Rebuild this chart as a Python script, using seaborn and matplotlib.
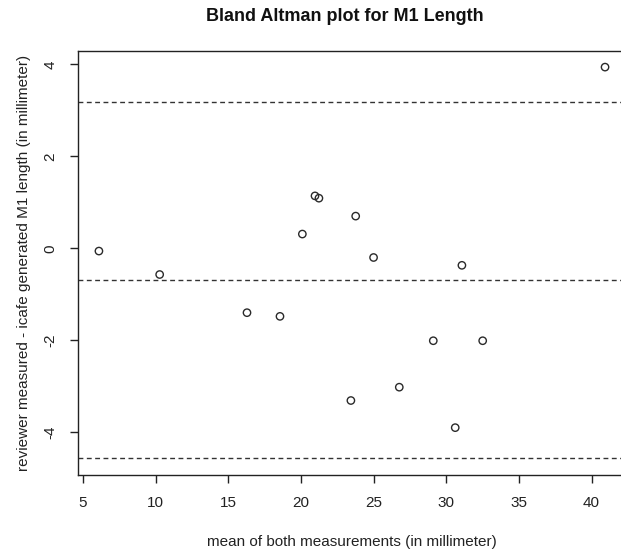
import matplotlib
matplotlib.use("Agg")
import matplotlib.pyplot as plt
import seaborn as sns
import pandas as pd

# mean of both measurements (mm) and difference reviewer - icafe (mm)
mean_mm = [6.1, 10.28, 16.29, 18.56, 20.1, 20.97, 21.24, 23.77,
           25.0, 31.08, 29.11, 32.51, 26.77, 23.44, 30.62, 40.93]
diff_mm = [-0.06, -0.57, -1.40, -1.48, 0.31, 1.14, 1.09, 0.70,
           -0.20, -0.37, -2.01, -2.01, -3.02, -3.31, -3.90, 3.94]

# mean difference and limits of agreement
agreement_lines = [3.18, -0.68, -4.55]

x_ticks = [5, 10, 15, 20, 25, 30, 35, 40]
y_ticks = [-4, -2, 0, 2, 4]

df = pd.DataFrame({"mean": mean_mm, "diff": diff_mm})

sns.set_theme(style="white")
plt.rcParams["font.family"] = ["Liberation Sans", "DejaVu Sans"]

fig = plt.figure(figsize=(6.21, 5.51), dpi=100)
ax = fig.add_axes([0.1256, 0.1379, 0.8831, 0.7695])

sns.scatterplot(data=df, x="mean", y="diff", ax=ax, s=28,
                facecolor="none", edgecolor="#2a2a2a", linewidth=1.0)

for yv in agreement_lines:
    ax.axhline(yv, color="#333333", linewidth=1.0, linestyle=(0, (3.5, 2.5)))

ax.set_xlim(4.66, 42.4)
ax.set_ylim(-4.93, 4.29)
ax.set_xticks(x_ticks)
ax.set_yticks(y_ticks)
ax.set_yticklabels([str(v) for v in y_ticks], rotation=90, va="center")

ax.tick_params(axis="both", direction="out", length=6, width=1.0,
               color="#222222", labelsize=11, labelcolor="#222222", pad=9,
               bottom=True, left=True)
for sp in ax.spines.values():
    sp.set_color("#222222")
    sp.set_linewidth(1.0)

ax.set_xlabel("mean of both measurements (in millimeter)", fontsize=11,
              color="#222222", labelpad=18)
ax.set_ylabel("reviewer measured - icafe generated M1 length (in millimeter)",
              fontsize=11, color="#222222", labelpad=9)
fig.text(0.555, 0.97, "Bland Altman plot for M1 Length", ha="center",
         va="center", fontsize=13, fontweight="bold", color="#111111")

fig.savefig("out.png", dpi=100)
